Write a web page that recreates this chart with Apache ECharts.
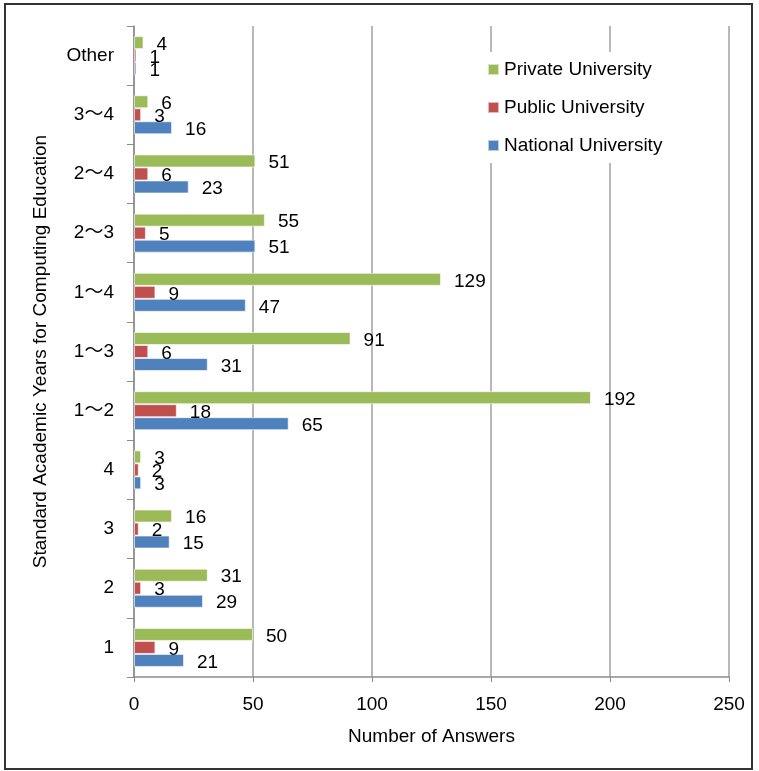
<!DOCTYPE html>
<html>
<head>
<meta charset="utf-8">
<script src="https://cdn.jsdelivr.net/npm/echarts@6/dist/echarts.min.js"></script>
<style>
  html, body { margin: 0; padding: 0; background: #fff; }
  #chart { width: 759px; height: 771px; }
</style>
</head>
<body>
<div id="chart"></div>
<script>
// categories, bottom to top
var categories = ['1', '2', '3', '4', '1～2', '1～3', '1～4', '2～3', '2～4', '3～4', 'Other'];
var nationalValues = [21, 29, 15, 3, 65, 31, 47, 51, 23, 16, 1];
var publicValues = [9, 3, 2, 2, 18, 6, 9, 5, 6, 3, 1];
var privateValues = [50, 31, 16, 3, 192, 91, 129, 55, 51, 6, 4];
var legendNames = ['Private University', 'Public University', 'National University'];

var FONT = 'Liberation Sans, Noto Sans CJK JP, sans-serif';

var chart = echarts.init(document.getElementById('chart'));

function barSeries(name, values, color) {
    return {
        name: name,
        type: 'bar',
        data: values,
        barWidth: 13,
        barGap: '0%',
        itemStyle: { color: color, borderColor: 'rgba(255,255,255,0.6)', borderWidth: 1 },
        label: {
            show: true,
            position: 'right',
            distance: 13,
            offset: [0, 2],
            color: '#000',
            fontSize: 19,
            fontFamily: FONT
        },
        emphasis: { disabled: true }
    };
}

chart.setOption({
    animation: false,
    backgroundColor: '#fff',
    textStyle: { fontFamily: FONT },
    graphic: [{
        type: 'rect',
        shape: { x: 5, y: 4, width: 747, height: 765 },
        style: { fill: 'none', stroke: '#333', lineWidth: 2 },
        z: 100
    }],
    grid: { left: 134, right: 30, top: 26, bottom: 94 },
    legend: {
        orient: 'vertical',
        left: 477,
        top: 52,
        data: legendNames,
        icon: 'rect',
        backgroundColor: '#fff',
        padding: [8, 10, 8, 10],
        itemWidth: 11,
        itemHeight: 11,
        itemGap: 19,
        textStyle: { fontSize: 19, color: '#000', fontFamily: FONT },
        z: 10
    },
    xAxis: {
        type: 'value',
        min: 0,
        max: 250,
        interval: 50,
        name: 'Number of Answers',
        nameLocation: 'middle',
        nameGap: 50,
        nameTextStyle: { fontSize: 19, color: '#000', fontFamily: FONT },
        axisLine: { show: true, lineStyle: { color: '#8c8c8c', width: 1.5 } },
        axisTick: { show: true, length: 5, lineStyle: { color: '#8c8c8c' } },
        axisLabel: { fontSize: 19, color: '#000', margin: 18, fontFamily: FONT },
        splitLine: { show: true, lineStyle: { color: '#a0a0a0', width: 1.5 } }
    },
    yAxis: {
        type: 'category',
        data: categories,
        name: 'Standard Academic Years for Computing Education',
        nameLocation: 'middle',
        nameGap: 84,
        nameRotate: 90,
        nameTextStyle: { fontSize: 19, color: '#000', fontFamily: FONT },
        axisLine: { show: true, lineStyle: { color: '#8c8c8c', width: 1.5 } },
        axisTick: { show: true, length: 7, inside: false, lineStyle: { color: '#8c8c8c' } },
        axisLabel: { fontSize: 19, color: '#000', margin: 20, fontFamily: FONT },
        splitLine: { show: false }
    },
    series: [
        barSeries('Private University', privateValues, '#9BBB59'),
        barSeries('Public University', publicValues, '#C0504D'),
        barSeries('National University', nationalValues, '#4F81BD')
    ]
});
</script>
</body>
</html>
